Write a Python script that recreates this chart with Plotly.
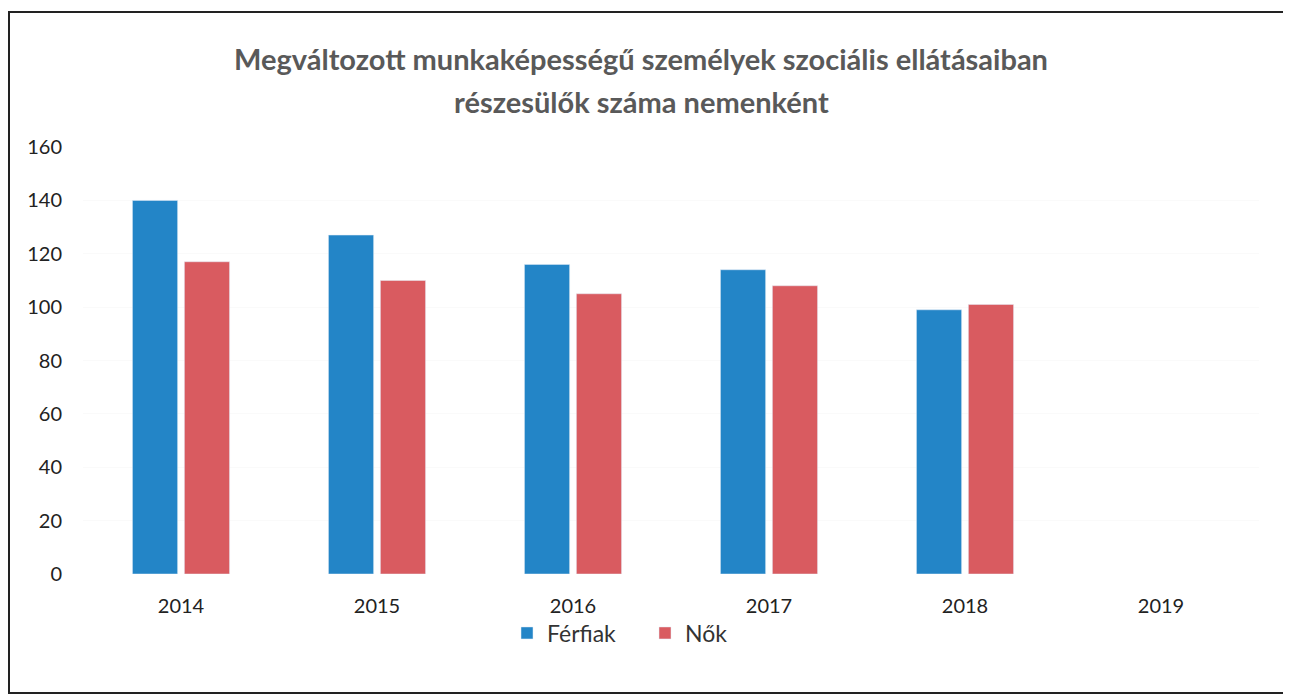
import plotly.graph_objects as go

years = ["2014", "2015", "2016", "2017", "2018", "2019"]
ferfiak = [140, 127, 116, 114, 99, None]
nok = [117, 110, 105, 108, 101, None]
y_ticks = [0, 20, 40, 60, 80, 100, 120, 140, 160]
title_lines = ["Megváltozott munkaképességű személyek szociális ellátásaiban",
               "részesülők száma nemenként"]

font_family = "Lato, 'Open Sans', sans-serif"

fig = go.Figure()
fig.add_trace(go.Bar(x=years, y=ferfiak, name="Férfiak", marker_color="#2385c7"))
fig.add_trace(go.Bar(x=years, y=nok, name="Nők", marker_color="#d95b60"))

# page body has an 8px offset; compensate so screen positions match
OFF = 8
W, H = 1291 - OFF, 696 - OFF
L, T = 83 - OFF, 147 - OFF
R, B = 1291 - 1259, 696 - 574
pw, ph = W - L - R, H - T - B

def px_x(p):
    return (p - OFF - L) / pw

def px_y(p):
    return (T + ph - (p - OFF)) / ph

annotations = []
for line, ypix in zip(title_lines, [58, 101]):
    annotations.append(dict(
        text="<b>" + line + "</b>", showarrow=False,
        xref="paper", yref="paper", x=px_x(641), y=px_y(ypix),
        xanchor="center", yanchor="middle",
        font=dict(family=font_family, size=29, color="#595959"),
    ))

fig.update_layout(
    width=W, height=H,
    margin=dict(l=L, r=R, t=T, b=B),
    paper_bgcolor="white", plot_bgcolor="white",
    barmode="group", bargap=0.47, bargroupgap=0.13,
    annotations=annotations,
    font=dict(family=font_family, size=20, color="#222222"),
    xaxis=dict(showgrid=False, showline=False, zeroline=False, ticks="", ticklabelstandoff=18),
    yaxis=dict(range=[0, 160], tickvals=y_ticks, showgrid=True, gridcolor="#fafafa",
               zeroline=False, showline=False, ticks="", ticklabelstandoff=20),
    legend=dict(orientation="h", x=px_x(645), xanchor="center", y=px_y(633), yanchor="middle",
                bgcolor="rgba(0,0,0,0)", font=dict(size=23, color="#333333"),
                itemwidth=30, entrywidth=93, traceorder="normal"),
    shapes=[dict(type="rect", xref="paper", yref="paper",
                 x0=px_x(OFF + 1), x1=px_x(1287), y0=px_y(693), y1=px_y(12),
                 line=dict(color="#222222", width=2), fillcolor="rgba(0,0,0,0)", layer="below")],
)

fig.write_html("out.html")
